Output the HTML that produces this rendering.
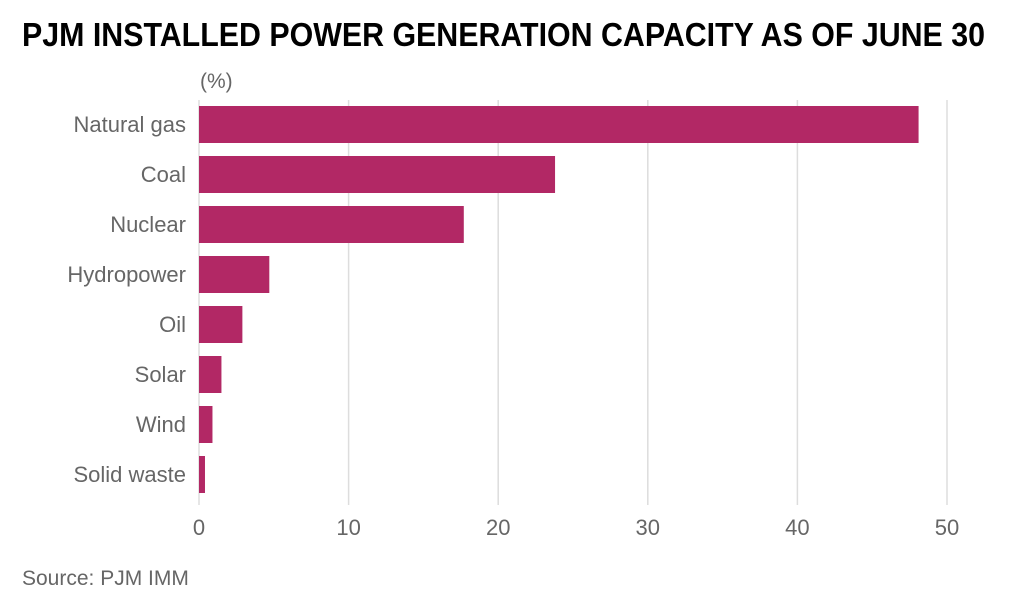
<!DOCTYPE html>
<html><head><meta charset="utf-8"><style>
body{margin:0;background:#fff;}
svg{display:block;font-family:"Liberation Sans",sans-serif;}
</style></head><body>
<svg id="chart" width="1016" height="610">
<text x="22" y="46" font-size="33" font-weight="bold" fill="#000" textLength="963" lengthAdjust="spacingAndGlyphs">PJM INSTALLED POWER GENERATION CAPACITY AS OF JUNE 30</text>
<text x="200" y="88" font-size="21" fill="#666">(%)</text>
<g id="grid"></g><g id="bars"></g><g id="labels"></g><g id="ticks"></g>
<text x="22" y="585" font-size="21" fill="#666">Source: PJM IMM</text>
</svg>
<script>
const categories=["Natural gas","Coal","Nuclear","Hydropower","Oil","Solar","Wind","Solid waste"];
const values=[48.1,23.8,17.7,4.7,2.9,1.5,0.9,0.4];
const ticks=[0,10,20,30,40,50];
const NS="http://www.w3.org/2000/svg";
const x=v=>199+v*14.96;
const y=i=>106+i*50;
function mk(t,a,p){const e=document.createElementNS(NS,t);for(const k in a)e.setAttribute(k,a[k]);p.appendChild(e);return e;}
const g=document.getElementById('grid'),b=document.getElementById('bars'),l=document.getElementById('labels'),tk=document.getElementById('ticks');
ticks.forEach(t=>{
const ln=mk('line',{x1:x(t),x2:x(t),y1:100,y2:505,stroke:'#ddd','stroke-width':1.5},g);


const tx=mk('text',{x:x(t),y:535,'font-size':22,fill:'#666','text-anchor':'middle'},tk);
tx.textContent=t;


});
categories.forEach((c,i)=>{
const r=mk('rect',{x:x(0),y:y(i),width:x(values[i])-x(0),height:37,fill:'#b22865'},b);


const t=mk('text',{x:186,y:y(i)+26,'font-size':22,fill:'#666','text-anchor':'end'},l);
t.textContent=c;


});
</script>
</body></html>
